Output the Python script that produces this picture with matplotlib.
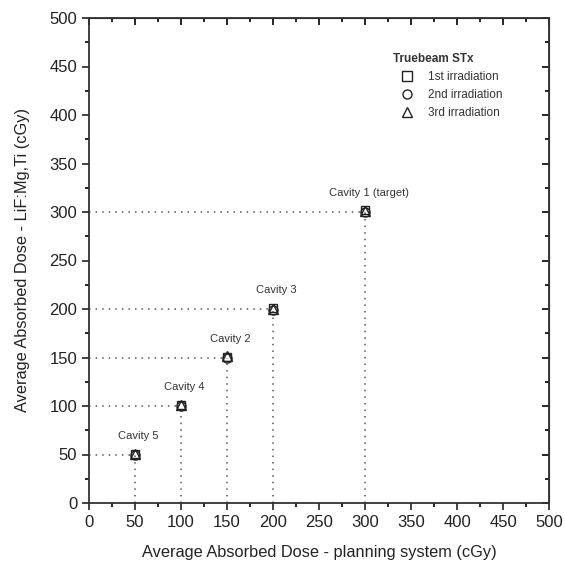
import numpy as np
import matplotlib
matplotlib.use("Agg")
import matplotlib.pyplot as plt
from matplotlib.ticker import MultipleLocator
from matplotlib.lines import Line2D

plt.rcParams['font.family'] = ['Liberation Sans', 'DejaVu Sans']

# planned dose per cavity (cGy) and measured TLD dose for three irradiations
cavities = ['Cavity 5', 'Cavity 4', 'Cavity 2', 'Cavity 3', 'Cavity 1 (target)']
planned = [50, 100, 150, 200, 300]
irr1 = [51, 101, 151, 201, 302]
irr2 = [50, 100, 150, 199, 300]
irr3 = [51, 101, 152, 200, 301]
series_labels = ['1st irradiation', '2nd irradiation', '3rd irradiation']
markers = ['s', 'o', '^']
msizes = [5.5, 6.5, 7]

fig = plt.figure(figsize=(5.65, 5.69), dpi=100)
ax = fig.add_axes([89 / 565, 66 / 569, 460 / 565, 485 / 569])

# guide lines from the axes to each point
for p in planned:
    ax.plot([p, p], [0, p], ls=(0, (1, 3.3)), color='#555555', lw=1.1)
    ax.plot([0, p], [p, p], ls=(0, (1, 3.3)), color='#555555', lw=1.1)

for vals, m, ms in zip([irr1, irr2, irr3], markers, msizes):
    ax.plot(planned, vals, ls='none', marker=m, ms=ms, mfc='none', mec='#222222', mew=1.0)

for name, p in zip(cavities, planned):
    ax.text(p + 4, p + 14, name, ha='center', va='bottom', fontsize=8, color='#333333')

ax.set_xlim(0, 500)
ax.set_ylim(0, 500)
ax.xaxis.set_major_locator(MultipleLocator(50))
ax.yaxis.set_major_locator(MultipleLocator(50))
ax.xaxis.set_minor_locator(MultipleLocator(25))
ax.yaxis.set_minor_locator(MultipleLocator(25))
ax.tick_params(which='major', direction='out', length=5, width=1.2, labelsize=12, colors='#222222')
ax.tick_params(which='minor', direction='out', length=3, width=1.2)
for s in ax.spines.values():
    s.set_linewidth(1.3)
    s.set_color('#333333')

# top and right ticks pointing inward, no labels
sec_x = ax.secondary_xaxis('top')
sec_x.xaxis.set_major_locator(MultipleLocator(50))
sec_x.xaxis.set_minor_locator(MultipleLocator(25))
sec_x.tick_params(which='major', direction='in', length=5, width=1.2, labeltop=False)
sec_x.tick_params(which='minor', direction='in', length=3, width=1.2)
sec_y = ax.secondary_yaxis('right')
sec_y.yaxis.set_major_locator(MultipleLocator(50))
sec_y.yaxis.set_minor_locator(MultipleLocator(25))
sec_y.tick_params(which='major', direction='in', length=5, width=1.2, labelright=False)
sec_y.tick_params(which='minor', direction='in', length=3, width=1.2)

ax.set_xlabel('Average Absorbed Dose - planning system (cGy)', fontsize=11.8, color='#222222', labelpad=11)
ax.set_ylabel('Average Absorbed Dose - LiF:Mg,Ti (cGy)', fontsize=11.8, color='#222222', labelpad=14)

handles = [Line2D([], [], ls='none', marker=m, ms=6.5, mfc='none', mec='#222222', mew=1.0) for m in markers]
leg = ax.legend(handles, series_labels, title='Truebeam STx', loc='upper left',
                bbox_to_anchor=((393 - 89) / 460, 1 - (53 - 18) / 485), frameon=False, fontsize=8.5,
                handlelength=2.3, handletextpad=0.7, labelspacing=0.52, borderaxespad=0,
                borderpad=0, alignment='left')
leg.get_title().set_fontsize(8.5)
leg.get_title().set_fontweight('bold')
leg.get_title().set_color('#333333')
for t in leg.get_texts():
    t.set_color('#333333')

fig.savefig('out.png', dpi=100)
